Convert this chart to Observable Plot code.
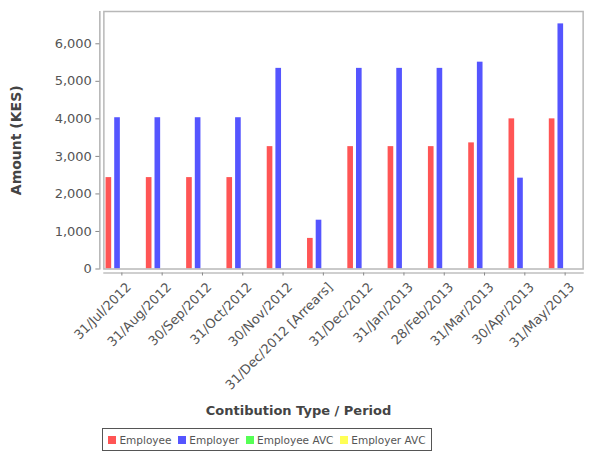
<!DOCTYPE html>
<html>
<head>
<meta charset="utf-8">
<script src="https://cdn.jsdelivr.net/npm/d3@7"></script>
<script src="https://cdn.jsdelivr.net/npm/@observablehq/plot@0.6"></script>
<style>
html, body { margin: 0; padding: 0; background: #fff; overflow: hidden; }
#chart { position: relative; width: 600px; height: 454px; font-family: "DejaVu Sans", sans-serif; }
#legend { position: absolute; left: 102px; top: 428px; width: 330px; height: 23px; border: 1px solid #555;
  display: flex; align-items: center; justify-content: space-around; font-size: 10.5px; color: #555; box-sizing: border-box; padding: 0 2px; }
#legend span.item { display: flex; align-items: center; white-space: nowrap; }
#legend span.sw { display: inline-block; width: 8px; height: 8px; margin-right: 3px; }
</style>
</head>
<body>
<div id="chart"></div>
<script>
const periods = ["31/Jul/2012", "31/Aug/2012", "30/Sep/2012", "31/Oct/2012", "30/Nov/2012",
  "31/Dec/2012 [Arrears]", "31/Dec/2012", "31/Jan/2013", "28/Feb/2013", "31/Mar/2013", "30/Apr/2013", "31/May/2013"];
const series = ["Employee", "Employer", "Employee AVC", "Employer AVC"];
const employee    = [2435, 2435, 2435, 2435, 3260, 815, 3260, 3260, 3260, 3360, 4000, 4000];
const employer    = [4030, 4030, 4030, 4030, 5345, 1300, 5345, 5345, 5345, 5510, 2420, 6530];
const employeeAVC = [0, 0, 0, 0, 0, 0, 0, 0, 0, 0, 0, 0];
const employerAVC = [0, 0, 0, 0, 0, 0, 0, 0, 0, 0, 0, 0];
const colors = ["#FF5555", "#5555FF", "#55FF55", "#FFFF55"];
const yTicks = [0, 1000, 2000, 3000, 4000, 5000, 6000];
const yLabel = "Amount (KES)";
const xLabel = "Contibution Type / Period";

const seriesValues = [employee, employer, employeeAVC, employerAVC];
const rows = periods.flatMap((p, i) => series.map((s, j) => ({period: p, series: s, value: seriesValues[j][i]})));

const H = 420;
const chart = Plot.plot({
  width: 600,
  height: H,
  marginLeft: 80,
  marginRight: -6,
  marginTop: 11,
  marginBottom: H - 268.5,
  style: {fontFamily: "DejaVu Sans, sans-serif", fontSize: "13px", overflow: "hidden", background: "#fff"},
  fx: {domain: periods, paddingInner: 0.107, paddingOuter: 0.58, round: false, axis: null, label: null},
  x: {domain: series, paddingInner: 0.35, paddingOuter: 0.25, round: false, axis: null},
  y: {domain: [0, 6860], axis: null},
  color: {domain: series, range: colors},
  marks: [
    Plot.barY(rows, {fx: "period", x: "series", y: "value", fill: "series"}),
    Plot.frame({facet: "super", stroke: "#b8b8b8", strokeWidth: 1.5}),
    Plot.frame({facet: "super", anchor: "left", dx: -4, stroke: "#a0a0a0", strokeWidth: 1.2}),
    Plot.frame({facet: "super", anchor: "bottom", dy: 4, stroke: "#a0a0a0", strokeWidth: 1.2}),
    Plot.axisY({ticks: yTicks, tickFormat: d3.format(","), tickSize: 4, dx: -4, tickPadding: 4,
      label: null, fill: "#555", stroke: "#888", fontSize: 13}),
    Plot.axisFx({anchor: "bottom", tickSize: 3, dy: 4, text: null, label: null, stroke: "#888"}),
    Plot.axisFx({anchor: "bottom", tickSize: 0, dx: 7, dy: 12, tickRotate: -45, tickPadding: 4,
      label: null, fill: "#555", fontSize: 13}),
    Plot.text([yLabel], {facet: "super", frameAnchor: "left", rotate: -90, dx: -87, text: d => d,
      fontSize: 14, fontWeight: "bold", fill: "#444", textAnchor: "middle", lineAnchor: "middle"}),
    Plot.text([xLabel], {facet: "super", frameAnchor: "bottom", dx: -45, dy: 142, text: d => d,
      fontSize: 13, fontWeight: "bold", fill: "#444", textAnchor: "middle", lineAnchor: "middle"})
  ]
});
document.getElementById("chart").appendChild(chart);

const legend = document.createElement("div");
legend.id = "legend";
series.forEach((s, i) => {
  const item = document.createElement("span");
  item.className = "item";
  const sw = document.createElement("span");
  sw.className = "sw";
  sw.style.background = colors[i];
  item.appendChild(sw);
  item.appendChild(document.createTextNode(s));
  legend.appendChild(item);
});
document.getElementById("chart").appendChild(legend);
</script>
</body>
</html>
